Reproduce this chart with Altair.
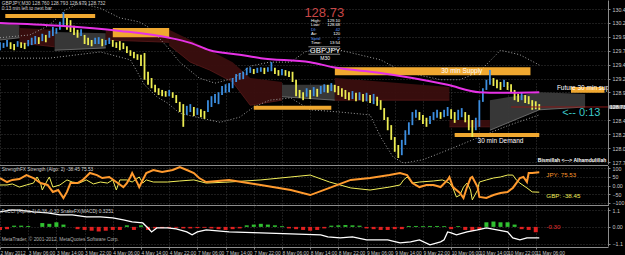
import altair as alt
import pandas as pd

FONT = "Liberation Sans"

# ---------------- data ----------------
date_labels = ["2 May 2012", "3 May 06:00", "3 May 14:00", "3 May 22:00", "4 May 06:00",
               "4 May 14:00", "4 May 22:00", "7 May 06:00", "7 May 14:00", "7 May 22:00",
               "8 May 06:00", "8 May 14:00", "8 May 22:00", "9 May 06:00", "9 May 14:00",
               "9 May 22:00", "10 May 06:00", "10 May 14:00", "10 May 22:00", "11 May 06:00"]
BARS_PER_LABEL = 16
price_ticks = [127.760, 128.005, 128.250, 128.495, 128.985, 129.230,
               129.475, 129.720, 129.965, 130.210, 130.455]

bar_idx = list(range(0, 307, 2))
bar_high = [129.87, 129.86, 129.91, 129.87, 129.84, 129.89, 129.87, 129.86, 129.91, 129.95,
            129.98, 129.96, 130.02, 130.00, 130.07, 130.14, 130.12, 130.23, 130.40, 130.30,
            130.26, 130.16, 130.09, 130.10, 130.00, 129.95, 129.91, 129.95, 129.96, 129.93,
            129.91, 129.95, 129.91, 129.87, 129.89, 129.86, 129.80, 129.73, 129.70, 129.66,
            129.65, 129.68, 129.35, 129.24, 129.12, 129.06, 129.03, 129.01, 129.03, 128.99,
            128.94, 128.82, 128.78, 128.75, 128.78, 128.73, 128.71, 128.69, 128.66, 128.85,
            128.92, 128.96, 128.99, 129.10, 129.13, 129.15, 129.24, 129.31, 129.33, 129.35,
            129.42, 129.43, 129.40, 129.42, 129.43, 129.42, 129.43, 129.52, 129.42, 129.38,
            129.40, 129.38, 129.36, 129.35, 129.21, 129.03, 128.99, 129.06, 129.03, 129.08,
            129.05, 129.10, 129.13, 129.12, 129.15, 129.12, 129.10, 129.06, 129.03, 128.99,
            129.01, 128.98, 128.99, 128.96, 128.98, 128.94, 128.96, 128.91, 128.85, 128.71,
            128.55, 128.41, 128.20, 128.06, 128.15, 128.32, 128.46, 128.64, 128.68, 128.64,
            128.59, 128.54, 128.57, 128.64, 128.68, 128.64, 128.68, 128.73, 128.69, 128.64,
            128.68, 128.71, 128.64, 128.59, 128.50, 128.54, 128.85, 129.06, 129.21, 129.38,
            129.24, 129.21, 129.17, 129.21, 129.17, 129.13, 129.03, 128.96, 128.99, 128.94,
            128.92, 128.85, 128.83, 128.78]
bar_low = [129.73, 129.77, 129.79, 129.75, 129.73, 129.79, 129.77, 129.75, 129.80, 129.82,
           129.84, 129.84, 129.89, 129.87, 129.95, 129.98, 130.02, 130.09, 130.16, 130.09,
           130.05, 130.00, 129.95, 129.98, 129.84, 129.82, 129.80, 129.84, 129.84, 129.80,
           129.82, 129.84, 129.79, 129.77, 129.73, 129.75, 129.68, 129.63, 129.59, 129.56,
           129.45, 129.21, 129.12, 129.06, 128.99, 128.94, 128.92, 128.91, 128.92, 128.89,
           128.80, 128.64, 128.38, 128.59, 128.64, 128.57, 128.59, 128.55, 128.52, 128.64,
           128.73, 128.80, 128.78, 128.94, 128.98, 128.99, 129.06, 129.17, 129.21, 129.22,
           129.29, 129.33, 129.31, 129.33, 129.35, 129.31, 129.35, 129.36, 129.31, 129.28,
           129.29, 129.28, 129.26, 129.17, 128.92, 128.89, 128.85, 128.91, 128.87, 128.92,
           128.91, 128.96, 128.99, 128.98, 129.01, 128.99, 128.94, 128.91, 128.87, 128.85,
           128.87, 128.83, 128.85, 128.82, 128.83, 128.80, 128.78, 128.75, 128.68, 128.50,
           128.32, 128.15, 127.94, 127.83, 127.88, 128.06, 128.24, 128.41, 128.54, 128.50,
           128.43, 128.38, 128.43, 128.50, 128.54, 128.52, 128.55, 128.57, 128.52, 128.45,
           128.50, 128.55, 128.46, 128.32, 128.20, 128.32, 128.38, 128.82, 129.03, 129.12,
           129.10, 129.06, 129.03, 129.08, 129.03, 128.99, 128.85, 128.82, 128.85, 128.80,
           128.78, 128.68, 128.69, 128.68]

ma_idx = [0, 34, 68, 96, 108, 119, 136, 148, 176, 189, 216, 234, 254, 272, 284, 306]
ma_val = [130.21, 130.16, 130.07, 129.95, 129.86, 129.73, 129.65, 129.59, 129.52, 129.43,
          129.33, 129.24, 129.12, 128.99, 128.98, 128.99]

zone_x1 = [3, 64, 144, 190, 258, 324]
zone_x2 = [54, 96, 188, 301, 306, 343]
zone_top = [130.37, 130.12, 128.75, 129.43, 128.27, 129.08]
zone_bot = [130.30, 129.96, 128.68, 129.29, 128.20, 128.98]

cloud_seg = [0, 0, 1, 1, 2, 2, 3, 3, 4, 4, 4, 4, 4, 4, 5, 5, 6, 6, 7, 7, 8, 8, 8]
cloud_idx = [0, 11, 11, 31, 31, 60, 60, 96, 96, 108, 119, 132, 142, 160, 160, 190,
             190, 255, 255, 278, 278, 306, 332]
cloud_top = [130.21, 130.17, 130.12, 130.09, 130.05, 130.03, 130.09, 130.05, 130.09, 129.91,
             129.73, 129.52, 129.24, 129.17, 129.12, 129.12, 129.24, 129.08, 128.50, 128.50,
             128.85, 128.99, 128.96]
cloud_bot = [129.91, 129.95, 129.86, 129.79, 129.73, 129.77, 129.91, 129.87, 129.82, 129.52,
             129.38, 129.17, 128.76, 128.85, 128.91, 128.85, 128.85, 128.85, 128.38, 128.38,
             128.32, 128.68, 128.73]
cloud_kind = ["up", "down", "up", "down", "down", "up", "down", "down", "up"]

upper_idx = [0, 17, 28, 37, 45, 57, 68, 79, 85, 94, 102, 113, 122, 133, 142, 153, 165, 173,
             182, 193, 204, 216, 227, 238, 250, 261, 272, 284, 295, 306]
upper_val = [129.95, 130.00, 130.17, 130.44, 130.56, 130.47, 130.30, 130.23, 130.12, 129.82,
             129.52, 129.24, 129.15, 129.24, 129.45, 129.52, 129.52, 129.70, 129.77, 129.73,
             129.65, 129.56, 129.38, 129.29, 129.21, 129.21, 129.35, 129.73, 129.65, 129.47]
lower_idx = [0, 28, 57, 74, 82, 89, 95, 102, 113, 125, 136, 144, 153, 165, 176, 193, 210,
             216, 223, 229, 240, 254, 265, 272, 289, 306]
lower_val = [129.59, 129.59, 129.70, 129.56, 129.12, 128.91, 128.80, 128.62, 128.54, 128.46,
             128.55, 128.73, 128.85, 128.89, 128.68, 128.64, 128.59, 128.20, 127.85, 127.74,
             127.80, 127.97, 128.11, 128.20, 128.41, 128.59]

jpy_idx = [0, 4, 7, 11, 15, 19, 23, 27, 30, 33, 36, 38, 40, 44, 47, 51, 55, 58, 62, 66,
           70, 72, 74, 75, 78, 79, 81, 83, 87, 92, 98, 102, 106, 110, 113, 117, 130, 148, 165, 176,
           187, 199, 210, 221, 227, 231, 234, 238, 242, 246, 250, 254, 255, 257, 261, 263, 265, 267,
           268, 271, 272, 276, 280, 284, 288, 291, 293, 295, 297, 299, 300, 302, 306]
jpy_val = [43, 20, 32, 37, 60, 43, 14, 3, -37, -26, -72, -37, 14, 14, 32, 72, 60, 43, 49, 20,
           -9, 14, 49, 72, 14, -9, 32, 72, 89, 78, 89, 106, 89, 72, 43, 20, 32, 3, -26, -55,
           -14, 32, 43, 60, 72, 60, 14, -9, 3, 3, -9, 32, 49, -9, -43, -72, -9, 43,
           49, -9, -66, -72, -55, -43, -37, -14, 14, 43, 49, 20, 72, 72, 75.53]
gbp_idx = [0, 4, 7, 11, 15, 19, 21, 23, 24, 27, 28, 30, 34, 38, 41, 45, 49, 53, 57, 61,
           64, 66, 68, 72, 75, 79, 81, 83, 87, 95, 102, 110, 117, 130, 148, 165, 176, 187, 199, 210,
           221, 227, 229, 231, 234, 238, 246, 251, 255, 257, 259, 261, 263, 265, 267, 268, 271, 272,
           276, 280, 284, 288, 291, 293, 295, 299, 302, 306]
gbp_val = [3, 3, 9, -9, 3, 14, 49, 14, -26, 32, 49, -9, 3, 32, 20, 14, 32, 9, 20, 14,
           32, -26, 32, 32, 20, 49, 14, 32, 20, 20, 26, 32, 14, 20, 32, 49, 60, 20, -14, -26,
           -9, 3, 32, 49, 14, 20, 26, 32, 14, -14, -66, -55, -9, 14, -26, -83, -26, 20,
           32, 43, 49, 60, 60, 32, 14, -14, -37, -38.45]

osc_idx = [0, 6, 11, 19, 27, 34, 41, 49, 57, 64, 70, 75, 81, 84, 86, 89, 95, 100, 106, 109,
           112, 117, 130, 148, 165, 182, 186, 193, 200, 208, 220, 227, 233, 238, 244, 250, 252,
           254, 256, 259, 265, 271, 276, 282, 288, 291, 295, 299, 306]
osc_val = [0.98, 1.1, 1.1, 0.98, 0.92, 0.78, 0.78, 0.65, 0.65, 0.59, 0.46, 0.33, 0.26, -0.07,
           -0.33, -0.07, -0.07, -0.13, -0.33, -0.52, -0.33, -0.2, -0.33, -0.39, -0.46, -0.52,
           -0.65, -0.72, -0.65, -0.85, -0.85, -1.05, -0.98, -0.85, -1.18, -0.98, -0.85, -0.33,
           -0.39, -0.52, -0.33, -0.2, -0.07, -0.2, -0.33, -0.72, -0.85, -0.72, -0.72]

hist_idx = list(range(0, 305, 4))
hist_val = [-0.2, -0.15, 0.08, 0.08, 0.06, 0, 0.25, 0.2, 0.3, 0.15,
            0, -0.15, -0.2, -0.25, -0.3, -0.25, -0.2, -0.2, 0.1, -0.2,
            0.1, -0.2, -0.1, -0.08, -0.08, -0.06, -0.1, -0.1, -0.08, -0.06,
            -0.1, -0.15, -0.2, -0.15, -0.1, 0.1, 0.15, 0.2, 0.15, 0.1,
            0.05, -0.1, -0.15, -0.2, -0.25, -0.2, -0.1, 0.08, 0.1, 0.12,
            0.1, 0.08, -0.1, -0.15, -0.2, -0.2, -0.15, -0.15, 0.06, 0.06,
            0.05, 0.06, 0.06, 0.05, -0.15, 0.05, -0.2, -0.25, -0.2, 0.3,
            0.35, 0.3, 0.3, 0.15, -0.15, -0.2, -0.35]

# ---------------- scales / axes ----------------
GRID = "#3a3a3a"
AXC = "#8c8c8c"
LBL = "#c8c8c8"
label_js = "[" + ",".join("'" + s + "'" for s in date_labels) + "]"

XS = alt.Scale(domain=[0, 345], nice=False, zero=False)
XAX = alt.Axis(values=[i * BARS_PER_LABEL for i in range(len(date_labels))],
               labelExpr=label_js + "[round(datum.value/" + str(BARS_PER_LABEL) + ")]",
               labelAlign="left", labelFontSize=4.8, labelColor=LBL, labelFont=FONT,
               labelOverlap=False, labelPadding=1, tickSize=2, tickColor=AXC,
               domainColor=AXC, grid=True, gridColor=GRID, gridDash=[1, 2], title=None)


def X(f):
    return alt.X(f, type="quantitative", scale=XS, axis=XAX, title=None)


def yaxis(values, expr=None, fmt=None):
    kw = dict(values=values, orient="right", labelFontSize=5.3, labelColor=LBL, labelFont=FONT,
              labelOverlap=False, labelPadding=2, tickSize=2, tickColor=AXC, domainColor=AXC,
              grid=True, gridColor=GRID, gridDash=[1, 2], title=None)
    if expr:
        kw["labelExpr"] = expr
    if fmt:
        kw["format"] = fmt
    return alt.Axis(**kw)


S1 = alt.Scale(domain=[127.725, 130.615], range=[164, 0], nice=False, zero=False)
A1 = yaxis(price_ticks, fmt=".3f")
S2 = alt.Scale(domain=[-115, 115], range=[205.5, 165.5], nice=False, zero=False)
A2 = yaxis([100, 50, 0, -50, -100], expr="datum.value == 0 ? '0.00' : datum.label")
S3 = alt.Scale(domain=[-1.25, 1.3], range=[246, 207], nice=False, zero=False)
A3 = yaxis([1.1, 0, -1.1], expr="datum.value == 0 ? '0.00' : format(datum.value, '.1f')")


def Y1(f):
    return alt.Y(f, type="quantitative", scale=S1, axis=A1, title=None)


def Y2p(f):
    return alt.Y(f, type="quantitative", scale=S2, axis=A2, title=None)


def Y3(f):
    return alt.Y(f, type="quantitative", scale=S3, axis=A3, title=None)


def text_layer(df, Yf, align="left", size=6, color="#d0d0d0", weight="normal", clip=False):
    return alt.Chart(df).mark_text(align=align, baseline="middle", font=FONT, fontSize=size,
                                   color=color, fontWeight=weight, clip=clip).encode(
        x=X("idx"), y=Yf("v"), text="t:N")


def T(t, idx, v):
    return pd.DataFrame({"t": [t], "idx": [idx], "v": [v]})


# ---------------- main panel ----------------
UP_COL, DN_COL = "#3c8ee0", "#ecec52"
mids = [(h + l) / 2 for h, l in zip(bar_high, bar_low)]
bar_col = [UP_COL if i == 0 or mids[i] >= mids[i - 1] else DN_COL for i in range(len(mids))]
bars = pd.DataFrame({"idx": bar_idx, "hi": bar_high, "lo": bar_low, "col": bar_col})

kind_col = {"up": "#3a3a3a", "down": "#3a0e0e"}
kind_edge = {"up": "#7a7a7a", "down": "#5a1a1a"}
cloud = pd.DataFrame({"seg": cloud_seg, "idx": cloud_idx, "top": cloud_top, "bot": cloud_bot,
                      "col": [kind_col[cloud_kind[s]] for s in cloud_seg],
                      "edge": [kind_edge[cloud_kind[s]] for s in cloud_seg]})
zones = pd.DataFrame({"x1": zone_x1, "x2": zone_x2, "top": zone_top, "bot": zone_bot})
bands = pd.concat([pd.DataFrame({"idx": upper_idx, "v": upper_val, "b": "up"}),
                   pd.DataFrame({"idx": lower_idx, "v": lower_val, "b": "lo"})])
ma = pd.DataFrame({"idx": ma_idx, "v": ma_val})

main_layers = [
    alt.Chart(cloud).mark_area(opacity=0.95).encode(
        x=X("idx"), y=Y1("top"), y2=alt.Y2("bot"), color=alt.Color("col:N", scale=None),
        detail="seg:N"),
    alt.Chart(cloud).mark_line(strokeWidth=0.8).encode(
        x=X("idx"), y=Y1("bot"), color=alt.Color("edge:N", scale=None), detail="seg:N"),
    alt.Chart(bands).mark_line(strokeDash=[1, 2], color="#a0a0a0", strokeWidth=1).encode(
        x=X("idx"), y=Y1("v"), detail="b:N"),
    alt.Chart(zones).mark_rect(color="#f0a830").encode(
        x=X("x1"), x2=alt.X2("x2"), y=Y1("top"), y2=alt.Y2("bot")),
    alt.Chart(bars).mark_rule(strokeWidth=1.8).encode(
        x=X("idx"), y=Y1("lo"), y2=alt.Y2("hi"), color=alt.Color("col:N", scale=None)),
    alt.Chart(ma).mark_line(color="#e632e6", strokeWidth=2, interpolate="monotone").encode(
        x=X("idx"), y=Y1("v")),
    # bid line and price label
    alt.Chart(pd.DataFrame({"idx": [290], "idx2": [345], "v": [128.73]})).mark_rule(
        color="#8b1a1a").encode(x=X("idx"), x2=alt.X2("idx2"), y=Y1("v")),
    alt.Chart(pd.DataFrame({"idx": [345], "idx2": [356], "v": [128.76], "v2": [128.70]})).mark_rect(
        color="#8a8a8a").encode(x=X("idx"), x2=alt.X2("idx2"), y=Y1("v"), y2=alt.Y2("v2")),
    text_layer(T("128.730", 346, 128.73), Y1, size=5.3, color="#ffffff"),
    # info box separators
    alt.Chart(pd.DataFrame({"idx": [175, 175], "idx2": [193, 193], "v": [129.79, 129.66]})).mark_rule(
        color="#b0b0b0", strokeWidth=0.8).encode(x=X("idx"), x2=alt.X2("idx2"), y=Y1("v")),
    # texts
    text_layer(T("GBPJPY,M30  128.760 128.793 128.679 128.732", 1, 130.54), Y1, size=4.8),
    text_layer(T("0:13 min left to next bar", 1, 130.46), Y1, size=4.8),
    text_layer(T("128.73", 184, 130.39), Y1, align="center", size=13, color="#c84646"),
    text_layer(T("GBPJPY", 184.5, 129.725), Y1, align="center", size=7.8, color="#ffffff"),
    text_layer(T("M30", 184.5, 129.595), Y1, align="center", size=5, color="#ffffff"),
    text_layer(T("30 min Supply", 262, 129.36), Y1, align="center", size=6.5, color="#ffffff"),
    text_layer(T("30 min Demand", 284, 128.13), Y1, align="center", size=6.5, color="#ffffff"),
    text_layer(T("Future 30 min supply", 316, 129.07), Y1, size=6.5, color="#ffffff", clip=True),
    text_layer(T("<-- 0:13", 319, 128.62), Y1, size=11, color="#3cc8c8"),
    text_layer(T("Bismillah <---> Alhamdulillah", 344, 127.79), Y1, align="right", size=5,
               color="#ffffff", weight="bold"),
]
info_labels = ["High:", "Low:", "DI:", "Av:", "Sprd:", "Time:"]
info_values = ["129.10", "128.68", "42", "120", "2", "13:54"]
info_y = [130.24, 130.17, 130.09, 130.01, 129.93, 129.85]
info_col = ["#ffffff", "#ffffff", "#5a9cff", "#ffffff", "#5a9cff", "#ffffff"]
for lab, val, yv, c in zip(info_labels, info_values, info_y, info_col):
    main_layers.append(text_layer(T(lab, 176.5, yv), Y1, size=4.2, color=c))
    main_layers.append(text_layer(T(val, 193, yv), Y1, align="right", size=4.2, color=c))

main = alt.layer(*main_layers)

# ---------------- strength panel ----------------
jpy = pd.DataFrame({"idx": jpy_idx, "v": jpy_val})
gbp = pd.DataFrame({"idx": gbp_idx, "v": gbp_val})
sep = pd.DataFrame({"idx": [0, 0], "idx2": [345, 345], "v": [115, -115]})
p2 = alt.layer(
    alt.Chart(sep).mark_rule(color=AXC).encode(x=X("idx"), x2=alt.X2("idx2"), y=Y2p("v")),
    alt.Chart(gbp).mark_line(color="#f2ee5a", strokeWidth=1).encode(x=X("idx"), y=Y2p("v")),
    alt.Chart(jpy).mark_line(color="#ff9a2e", strokeWidth=2).encode(x=X("idx"), y=Y2p("v")),
    text_layer(T("StrengthFX Strength (Algo: 2) -38.45 75.53", 1, 89), Y2p, size=4.8),
    text_layer(T("JPY: 75.53", 310, 60), Y2p, size=6.2, color="#ff9a2e"),
    text_layer(T("GBP: -38.45", 310, -60), Y2p, size=6.2, color="#f2ee5a"),
)

# ---------------- oscillator panel ----------------
hist = pd.DataFrame({"idx": hist_idx, "v": hist_val, "z": 0.0})
hist["col"] = ["#30c030" if v > 0 else "#e02020" for v in hist_val]
osc = pd.DataFrame({"idx": osc_idx, "v": osc_val})
p3 = alt.layer(
    alt.Chart(hist).mark_rule(strokeWidth=4).encode(
        x=X("idx"), y=Y3("z"), y2=alt.Y2("v"), color=alt.Color("col:N", scale=None)),
    alt.Chart(osc).mark_line(color="#ffffff", strokeWidth=1.3).encode(x=X("idx"), y=Y3("v")),
    text_layer(T("FxCCI (Alpha 1) 0.38 -0.30   SnakeFX(MACD) 0.3251", 1, 0.95), Y3, size=4.8),
    text_layer(T("-0.30", 310, 0), Y3, size=6.2, color="#e03030"),
    text_layer(T("MetaTrader, \u00a9 2001-2012, MetaQuotes Software Corp.", 1, -0.85), Y3, size=4.8,
               color="#b0b0b0"),
)

chart = alt.layer(main, p2, p3).resolve_scale(y="independent").properties(
    width=608, height=247, background="black",
    padding={"left": 0, "top": 0, "right": 17, "bottom": 8},
    autosize=alt.AutoSizeParams(type="none"),
).configure_view(stroke=None)

chart.save("out.html", embed_options={"renderer": "svg", "actions": False})
